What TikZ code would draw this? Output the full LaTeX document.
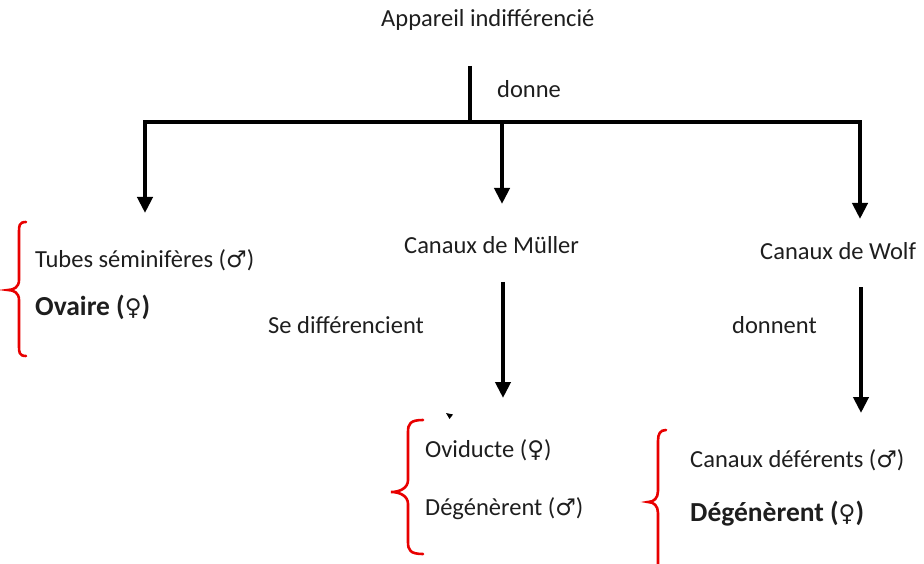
\documentclass[tikz,border=0pt]{standalone}
\usepackage{fontspec}
\setmainfont{Carlito}
\newfontfamily\symfont{DejaVu Sans}
\usetikzlibrary{arrows.meta}
\newcommand{\symMale}{{\symfont\fontsize{23}{26}\selectfont ♂}}
\newcommand{\symFemale}{{\symfont\fontsize{23}{26}\selectfont ♀}}
\definecolor{bracered}{RGB}{232,0,0}
\definecolor{ink}{RGB}{30,30,30}
\begin{document}
\begin{tikzpicture}[x=1pt,y=-1pt,
  lbl/.style={font=\fontsize{24.5}{28}\selectfont, text=ink, inner sep=0pt, anchor=base west},
  boldlbl/.style={lbl, font=\fontsize{27.5}{31}\selectfont\bfseries},
  trunk/.style={line width=4.5pt, draw=black},
  conn/.style={line width=4.5pt, draw=black, -{Triangle[width=15pt,length=16pt]}},
  bracket/.style={draw=bracered, line width=2.6pt, line cap=round}]
\useasboundingbox (0,0) rectangle (924,564);
\clip (0,0) rectangle (924,564);

% labels
\node[lbl] (app) at (381,27) {Appareil indifférencié};
\node[lbl] (donne) at (497,98) {donne};
\node[lbl] (tubes) at (35,268) {Tubes séminifères (\symMale)};
\node[boldlbl] (ovaire) at (35,315) {Ovaire (\symFemale)};
\node[lbl] (muller) at (404,254) {Canaux de Müller};
\node[lbl] (wolf) at (760,259) {Canaux de Wolf};
\node[lbl] (sediff) at (268,333) {Se différencient};
\node[lbl] (donnent) at (732,333) {donnent};
\node[lbl] (ovid) at (425,457) {Oviducte (\symFemale)};
\node[lbl] (degm) at (425,515) {Dégénèrent (\symMale)};
\node[lbl] (deferents) at (690,467) {Canaux déférents (\symMale)};
\node[boldlbl] (degf) at (690,521) {Dégénèrent (\symFemale)};

% branching tree
\coordinate (stem) at (470,66);
\coordinate (fork) at (470,122);
\coordinate (barL) at (143,122);
\coordinate (barR) at (862,122);
\coordinate (jL) at (145,122);
\coordinate (jM) at (502,122);
\coordinate (jR) at (860,122);
\coordinate (tipL) at (145,213);
\coordinate (tipM) at (502,204);
\coordinate (tipR) at (860,219);
\draw[trunk] (stem) -- (fork);
\draw[trunk] (barL) -- (barR);
\draw[conn] (jL) -- (tipL);
\draw[conn] (jM) -- (tipM);
\draw[conn] (jR) -- (tipR);

% lower arrows
\coordinate (mTop) at (503,282);
\coordinate (mTip) at (503,398);
\coordinate (wTop) at (861,287);
\coordinate (wTip) at (861,413);
\draw[conn] (mTop) -- (mTip);
\draw[conn] (wTop) -- (wTip);

% small stray arrowhead
\fill[black] (446,413) -- (453,414.5) -- (449.5,419) -- cycle;

% red braces
\draw[bracket] (26,222) .. controls (19,222) and (19,226) .. (19,232)
  -- (19,280) .. controls (19,287) and (14,290) .. (8,290)
  .. controls (14,290) and (19,293) .. (19,300)
  -- (19,346) .. controls (19,352) and (19,356) .. (26,356);
\draw[bracket] (423,420) .. controls (410,420) and (408,424) .. (408,432)
  -- (408,480) .. controls (408,488) and (400,492) .. (391,492)
  .. controls (400,492) and (408,496) .. (408,504)
  -- (408,542) .. controls (408,550) and (410,554) .. (423,554);
\draw[bracket] (666,430) .. controls (660,430) and (658,434) .. (658,441)
  -- (658,491) .. controls (658,498) and (654,502) .. (648,502)
  .. controls (654,502) and (658,506) .. (658,513)
  -- (658,575);
\end{tikzpicture}
\end{document}
